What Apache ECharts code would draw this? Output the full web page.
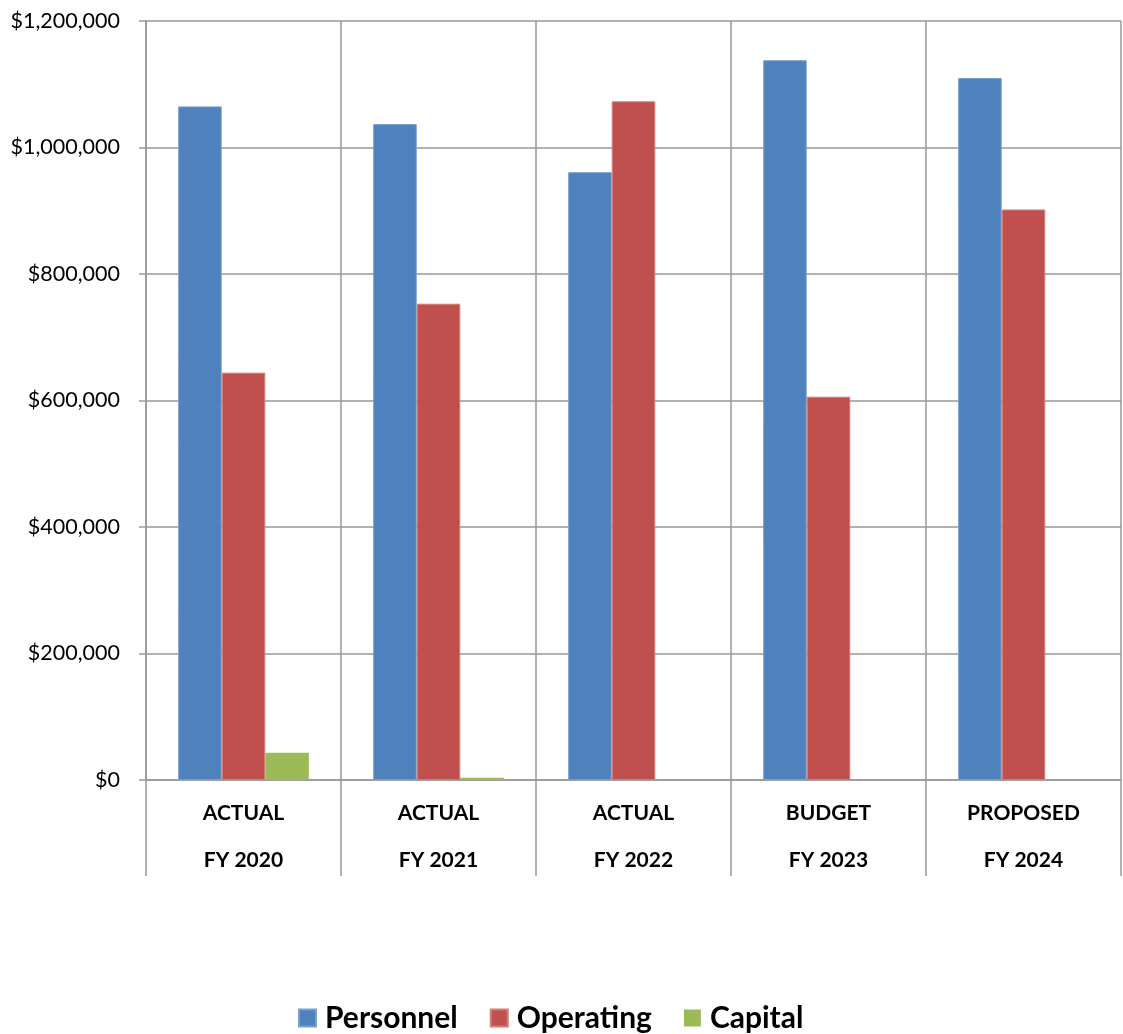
<!DOCTYPE html>
<html>
<head>
<meta charset="utf-8">
<title>Expenditures by Category</title>
<script src="https://cdn.jsdelivr.net/npm/echarts@6/dist/echarts.min.js"></script>
<style>
  html, body { margin: 0; padding: 0; background: #fff; }
  #chart { width: 1123px; height: 1034px; }
</style>
</head>
<body>
<div id="chart"></div>
<script>
// Fiscal-year columns: status line and year line
const stages = ['ACTUAL', 'ACTUAL', 'ACTUAL', 'BUDGET', 'PROPOSED'];
const years = ['FY 2020', 'FY 2021', 'FY 2022', 'FY 2023', 'FY 2024'];

// Spending by category, in dollars
const personnel = [1065000, 1037000, 961000, 1138000, 1110000];
const operating = [644000, 753000, 1073000, 606000, 902000];
const capital = [43000, 3700, 0, 0, 0];

// Value axis ticks
const yMin = 0;
const yMax = 1200000;
const yStep = 200000;

const categories = stages.map((s, i) => s + '\n' + years[i]);

const gridColor = '#999999';
const fontFamily = 'Lato, "Open Sans", "Liberation Sans", sans-serif';

function money(v) {
  return '$' + Math.round(v).toString().replace(/\B(?=(\d{3})+(?!\d))/g, ',');
}

function barSeries(name, values, color, edge, edgeWidth) {
  return {
    name: name,
    type: 'bar',
    data: values,
    barGap: '0%',
    barCategoryGap: '33%',
    itemStyle: { color: color, borderColor: edge, borderWidth: edgeWidth },
    emphasis: { disabled: true }
  };
}

const chart = echarts.init(document.getElementById('chart'));
chart.setOption({
  animation: false,
  color: ['#4F81BD', '#C0504D', '#9BBB59'],
  textStyle: { fontFamily: fontFamily },
  grid: { left: 146, right: 2, top: 21, bottom: 254, containLabel: false },
  legend: {
    top: 998,
    left: 293,
    itemWidth: 17,
    itemHeight: 17,
    itemGap: 32,
    icon: 'rect',
    textStyle: {
      fontFamily: fontFamily,
      fontWeight: 'bold',
      fontSize: 30,
      color: '#000',
      padding: [0, 0, 0, 4]
    },
    data: ['Personnel', 'Operating', 'Capital']
  },
  xAxis: {
    type: 'category',
    data: categories,
    axisLine: { show: true, lineStyle: { color: gridColor, width: 1.5 } },
    axisTick: { show: true, length: 96, lineStyle: { color: gridColor, width: 1.5 } },
    splitLine: { show: true, lineStyle: { color: gridColor, width: 1.5 } },
    axisLabel: {
      margin: 10,
      color: '#000',
      fontFamily: fontFamily,
      fontWeight: 'bold',
      fontSize: 21,
      lineHeight: 47,
      interval: 0
    }
  },
  yAxis: {
    type: 'value',
    min: yMin,
    max: yMax,
    interval: yStep,
    axisLine: { show: true, lineStyle: { color: gridColor, width: 1.5 } },
    axisTick: { show: true, length: 7, lineStyle: { color: gridColor, width: 1.5 } },
    splitLine: { show: true, lineStyle: { color: gridColor, width: 1.5 } },
    axisLabel: {
      margin: 26,
      color: '#000',
      fontFamily: fontFamily,
      fontSize: 21.5,
      formatter: money
    }
  },
  series: [
    barSeries('Personnel', personnel, '#4F81BD', '#7A9FD0', 1),
    barSeries('Operating', operating, '#C0504D', '#D47C79', 1),
    barSeries('Capital', capital, '#9BBB59', '#B5CF82', 0)
  ]
});
</script>
</body>
</html>
